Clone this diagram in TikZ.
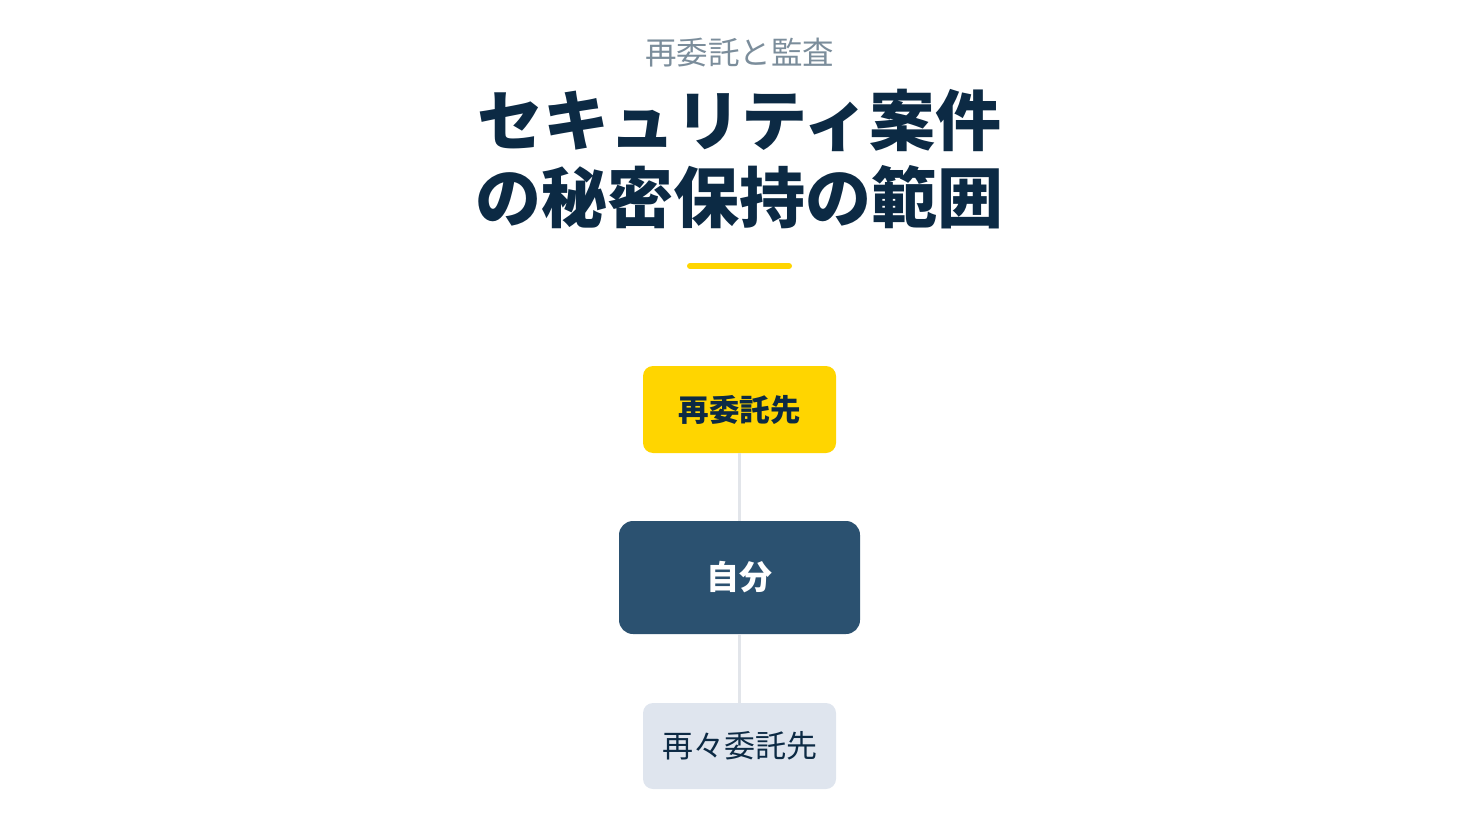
\documentclass[tikz,border=0pt]{standalone}
\usepackage{fontspec}
\setmainfont{Noto Sans CJK JP}
\usepackage{tikz}
\usetikzlibrary{positioning}
\definecolor{titlenavy}{HTML}{0C2A44}
\definecolor{subgray}{HTML}{7B8D9B}
\definecolor{accentyellow}{HTML}{FFD500}
\definecolor{selfblue}{HTML}{2B5170}
\definecolor{paleblue}{HTML}{DFE5EE}
\definecolor{linkgray}{HTML}{E2E5EA}
\tikzset{
    box/.style = {rectangle, rounded corners = 10pt, inner sep = 0pt,
                  minimum width = 193pt, minimum height = 87pt},
    link/.style = {draw = linkgray, line width = 3pt}
}

\begin{document}
\begin{tikzpicture}[x = 1pt, y = -1pt]
    % Bordi della figura
    \useasboundingbox (0,0) rectangle (1480,832);
    % Titolo
    \node[text = subgray, font = \fontsize{31.5}{36}\selectfont] (sub) at (739.5,53){再委託と監査};
    \node[text = titlenavy, align = center, font = \fontsize{66}{77}\selectfont\bfseries] (title) at (739.5,159){セキュリティ案件\\の秘密保持の範囲};
    \draw[accentyellow, line width = 6pt, line cap = round] (690,266) -- (789,266);
    % Nodi
    \node[box, fill = accentyellow, text = titlenavy, font = \fontsize{30.5}{36}\selectfont\bfseries] (upper) at (739.5,409.5){再委託先};
    \node[box, fill = selfblue, text = white, rounded corners = 14pt, minimum width = 241pt, minimum height = 113pt, font = \fontsize{33}{40}\selectfont\bfseries] (self) at (739.5,577.5){自分};
    \node[box, fill = paleblue, text = titlenavy, minimum height = 86pt, font = \fontsize{31}{37}\selectfont] (lower) at (739.5,746){再々委託先};
    % Collegamenti
    \draw[link] (upper) -- (self);
    \draw[link] (self) -- (lower);
\end{tikzpicture}
\end{document}
